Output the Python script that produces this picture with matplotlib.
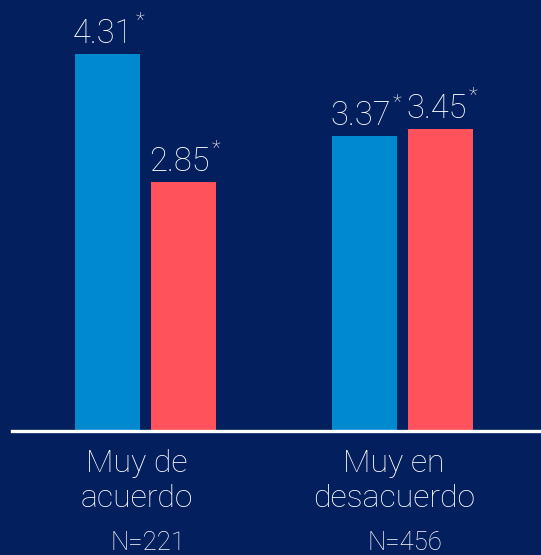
import matplotlib
matplotlib.use("Agg")
from matplotlib import pyplot as plt
import numpy as np

categories = ["Muy de\nacuerdo", "Muy en\ndesacuerdo"]
sample_sizes = ["N=221", "N=456"]
blue_values = [4.31, 3.37]
red_values = [2.85, 3.45]

bg = "#031f5e"
blue = "#0089cf"
red = "#ff525b"

plt.rcParams['font.family'] = ['Roboto', 'DejaVu Sans']
plt.rcParams['font.weight'] = 'light'

fig = plt.figure(figsize=(5.41, 5.55), dpi=100, facecolor=bg)
ax = fig.add_axes([12 / 541, 124 / 555, 529 / 541, 431 / 555])
ax.set_facecolor(bg)

x = np.arange(len(categories))
width = 0.253
offset = 0.148

bars_blue = ax.bar(x - offset, blue_values, width, color=blue)
bars_red = ax.bar(x + offset, red_values, width, color=red)

ax.set_xlim(-0.519, 1.539)
ax.set_ylim(0, 4.926)
ax.axis('off')

# value labels, then a small raised asterisk right after each one
labels = []
for bars, vals in [(bars_blue, blue_values), (bars_red, red_values)]:
    for b, v in zip(bars, vals):
        t = ax.annotate(f"{v:.2f}", (b.get_x() + b.get_width() / 2, v),
                        xytext=(-3, 8), textcoords='offset points',
                        ha='center', va='baseline', color='white', fontsize=23.5)
        labels.append(t)

fig.canvas.draw()
renderer = fig.canvas.get_renderer()
for t in labels:
    bb = t.get_window_extent(renderer)
    ax.annotate("*", (bb.x1, bb.y1), xycoords='figure pixels',
                xytext=(1.5, 5), textcoords='offset points',
                ha='left', va='top', color='white', fontsize=15)

ax.axhline(0, color='white', lw=2.4, clip_on=False)

for xi, cat, n in zip(x, categories, sample_sizes):
    ax.annotate(cat, (xi, 0), xycoords='data', xytext=(-6, -13),
                textcoords='offset points', ha='center', va='top',
                color='white', fontsize=23, linespacing=1.26)
    ax.annotate(n, (xi, 0), xycoords='data', xytext=(2, -86),
                textcoords='offset points', ha='center', va='baseline',
                color='white', fontsize=18.5)

fig.savefig("out.png", dpi=100, facecolor=bg)
